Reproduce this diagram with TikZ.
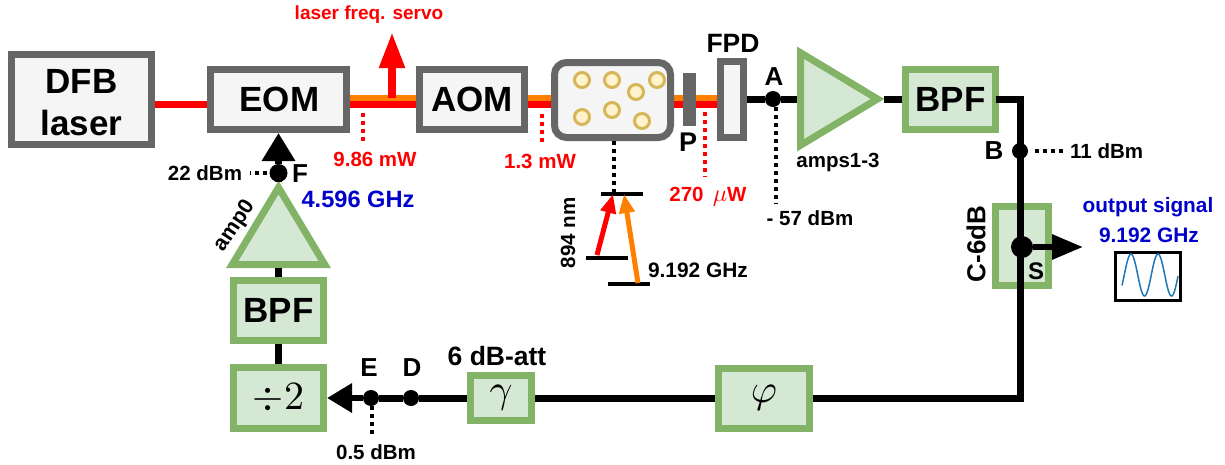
\documentclass[tikz,border=0pt]{standalone}
\usepackage{fontspec}
\setmainfont{Liberation Sans}
\usetikzlibrary{positioning,arrows.meta,shapes.geometric}
\definecolor{greyline}{HTML}{666666}
\definecolor{greyfill}{HTML}{F5F5F5}
\definecolor{greenline}{HTML}{82B366}
\definecolor{greenfill}{HTML}{D5E8D4}
\definecolor{beadline}{HTML}{D6B656}
\definecolor{beadfill}{HTML}{FFF2CC}
\definecolor{beamorange}{HTML}{FF8000}
\definecolor{sigblue}{HTML}{0000CC}
\definecolor{wave}{HTML}{1F77B4}
\newcommand{\fsz}[1]{\fontsize{#1}{#1}\selectfont\bfseries}
\newcommand{\bigmath}[2]{\scalebox{#1}{\fontsize{10}{10}\selectfont$#2$}}
\tikzset{
  optbox/.style={draw=greyline,fill=greyfill,line width=7pt,inner sep=0pt,font=\fsz{35}},
  rfbox/.style={draw=greenline,fill=greenfill,line width=7pt,inner sep=0pt,font=\fsz{35}},
  amptri/.style={draw=greenline,fill=greenfill,line width=7pt,isosceles triangle,isosceles triangle apex angle=62,inner sep=0pt,minimum height=77pt},
  wire/.style={line width=7pt},
  redbeam/.style={line width=7pt,red},
  orangebeam/.style={line width=6pt,beamorange},
  blob/.style={circle,fill=black,inner sep=0pt,minimum size=16pt},
  bead/.style={circle,draw=beadline,fill=beadfill,line width=3pt,inner sep=0pt,minimum size=15pt},
  probe/.style={line width=4pt,dash pattern=on 4pt off 4pt},
  level/.style={line width=4pt},
  lab/.style={inner sep=0pt,font=\fsz{20.5}},
  letter/.style={inner sep=0pt,font=\fsz{26}}
}
\begin{document}
\begin{tikzpicture}[x=1pt,y=-1pt]
\useasboundingbox (0,0) rectangle (1225,464);
% beams first, the boxes sit on top
\coordinate (r0) at (155,104.5);
\coordinate (r1) at (717,104.5);
\coordinate (o0) at (350,98);
\coordinate (o1) at (717,98);
\draw[redbeam] (r0)--(r1);
\draw[orangebeam] (o0)--(o1);

% optical line
\node[optbox,minimum width=140pt,minimum height=90pt,align=center] (DFB) at (81.5,99.5) {\rule{0pt}{30pt}DFB\\[7.5pt]laser};
\node[optbox,minimum width=136pt,minimum height=60pt] (EOM) at (278.5,99.5) {\hspace{2pt}EOM};
\node[optbox,minimum width=105pt,minimum height=60pt] (AOM) at (472,99.5) {AOM};
\node[optbox,rounded corners=12pt,minimum width=116pt,minimum height=75pt] (cell) at (612.5,100) {};
\node[draw=none,fill=greyline,minimum width=13pt,minimum height=53pt,inner sep=0pt] (pol) at (689.5,99.5) {};
\node[optbox,minimum width=23pt,minimum height=76pt] (FPD) at (732,99) {};

\node[bead] (b1) at (582,80) {};
\node[bead] (b2) at (612,80) {};
\node[bead] (b3) at (657,80) {};
\node[bead] (b4) at (636,92) {};
\node[bead] (b5) at (582,117) {};
\node[bead] (b6) at (612,110) {};
\node[bead] (b7) at (642,121) {};

% servo pick off
\coordinate (servo) at (392,98);
\node[inner sep=0pt,font=\fsz{19},red] (servolab) at (369,15) {laser freq. servo};
\coordinate (servotip) at (392,32);
\draw[-{Triangle[length=36pt,width=24pt]},line width=8pt,red] (servo)--(servotip);

% rf chain, top row
\node[blob] (A) at (773,99) {};
\node[amptri,anchor=west] (amps) at (797,99) {};
\node[rfbox,minimum width=90pt,minimum height=60pt] (BPFa) at (950.5,99) {BPF};
\coordinate (corner) at (1020,99);
\coordinate (cornerb) at (1020,398);
\node[blob] (B) at (1020,151) {};
\node[rfbox,minimum width=53pt,minimum height=79pt] (coupler) at (1022,246) {};
\node[circle,fill=black,inner sep=0pt,minimum size=22pt] (S) at (1022,247) {};
\coordinate (outtip) at (1083,247);

\draw[wire] (FPD)--(A);
\draw[wire] (A)--(amps.west);
\draw[wire] (amps.east)--(BPFa);
\draw[wire,line cap=rect] (BPFa.east)--(corner)--(cornerb);
\draw[-{Triangle[length=31pt,width=24pt]},line width=6pt] (S)--(outtip);

% rf chain, bottom row
\node[rfbox,minimum width=91pt,minimum height=60pt] (phi) at (764,398) {\bigmath{4}{\varphi}};
\node[rfbox,minimum width=61pt,minimum height=45pt] (att) at (501,398) {\bigmath{4}{\gamma}};
\node[blob] (D) at (411,398) {};
\node[blob] (E) at (371,398) {};
\node[rfbox,minimum width=90pt,minimum height=61pt] (div) at (278.5,398) {\bigmath{4}{\div 2}};
\node[rfbox,minimum width=90pt,minimum height=60pt] (BPFb) at (278.5,310.5) {BPF};
\node[amptri,shape border rotate=90,anchor=south] (amp) at (278.5,268) {};
\node[blob,minimum size=18pt] (F) at (278.5,173) {};

\draw[wire] (cornerb)--(phi);
\draw[wire] (phi)--(att);
\draw[wire] (att)--(D);
\draw[wire] (D)--(E);
\draw[-{Triangle[length=25pt,width=28pt]},line width=6.5pt] (E)--(div.east);
\draw[wire] (div)--(BPFb);
\draw[wire] (BPFb)--(amp.south);
\draw[wire] (amp.north)--(F);
\draw[-{Triangle[length=28pt,width=32pt]},line width=6.5pt] (F)--(EOM.south);

% power readings
\coordinate (p1a) at (363,113);
\coordinate (p1b) at (363,143);
\node[lab,red] (p1) at (375,159) {9.86 mW};
\draw[probe,red] (p1a)--(p1b);
\coordinate (p2a) at (542,114);
\coordinate (p2b) at (542,144);
\node[lab,red] (p2) at (540,161) {1.3 mW};
\draw[probe,red] (p2a)--(p2b);
\coordinate (p3a) at (705,112);
\coordinate (p3b) at (705,177);
\node[lab,red] (p3) at (708,197) {270\ \,\bigmath{2.4}{\mu}W};
\draw[probe,red] (p3a)--(p3b);

\node[lab] (r1lab) at (205,173) {22 dBm};
\draw[probe,shorten <=2pt,shorten >=8pt] (F)--(r1lab);
\node[lab,anchor=west] (r2lab) at (1070,151) {11 dBm};
\draw[probe,shorten <=7pt,shorten >=5pt] (B)--(r2lab);
\coordinate (r3b) at (776,204);
\coordinate (r3a) at (776,99);
\node[lab] (r3lab) at (810,218) {- 57 dBm};
\draw[probe] (r3a)--(r3b);
\coordinate (r4a) at (372,398);
\coordinate (r4b) at (372,435);
\node[lab] (r4lab) at (376,452) {0.5 dBm};
\draw[probe] (r4a)--(r4b);

% letters
\node[letter] (labF) at (300,174) {F};
\node[letter] (labA) at (774,77) {A};
\node[letter] (labB) at (994,151) {B};
\node[letter] (labD) at (412,368) {D};
\node[letter] (labE) at (369,368) {E};
\node[letter,font=\fsz{27}] (labP) at (688,142) {P};
\node[letter,font=\fsz{24}] (labS) at (1036,271) {S};
\node[letter,font=\fsz{26.5}] (labFPD) at (733,43) {FPD};
\node[lab] (labamps) at (838,162) {amps1-3};
\node[letter,rotate=90,font=\fsz{26}] (labC) at (976,244) {C-6dB};
\node[letter,font=\fsz{26.5}] (labatt) at (497,356) {6 dB-att};
\node[lab,rotate=56,font=\fsz{21.5}] (labamp) at (235,226) {amp0};
\node[letter,font=\fsz{23.6},sigblue] (labfreq) at (358,199) {4.596 GHz};

% energy levels
\coordinate (u0) at (601,194);
\coordinate (u1) at (643,194);
\coordinate (g0) at (586,258);
\coordinate (g1) at (628,258);
\coordinate (h0) at (608,284);
\coordinate (h1) at (650,284);
\coordinate (celltap) at (614,141);
\coordinate (uptap) at (614,192);
\draw[probe] (celltap)--(uptap);
\draw[level] (u0)--(u1);
\draw[level] (g0)--(g1);
\draw[level] (h0)--(h1);
\coordinate (redfoot) at (597,255);
\coordinate (redtop) at (613,194);
\coordinate (orfoot) at (638,283);
\coordinate (ortop) at (624,194);
\draw[-{Triangle[length=19pt,width=15pt]},line width=5pt,red] (redfoot)--(redtop);
\draw[-{Triangle[length=19pt,width=15pt]},line width=5pt,beamorange] (orfoot)--(ortop);
\node[lab,rotate=90] (lab894) at (568,233) {894 nm};
\node[lab,font=\fsz{20.9}] (labhfs) at (698,270) {9.192 GHz};

% output signal
\node[lab,font=\fsz{20.8},sigblue] (labout) at (1148,207) {output signal};
\node[lab,font=\fsz{20.9},sigblue] (laboutf) at (1149,235) {9.192 GHz};
\node[draw=black,fill=white,line width=3pt,minimum width=65pt,minimum height=48pt,inner sep=0pt] (scope) at (1148,276.5) {};
\draw[wave,line width=1.5pt,smooth,samples=80,domain=1122:1178] plot (\x,{275-21*sin((\x-1124.25)/27*360)});
\end{tikzpicture}
\end{document}
